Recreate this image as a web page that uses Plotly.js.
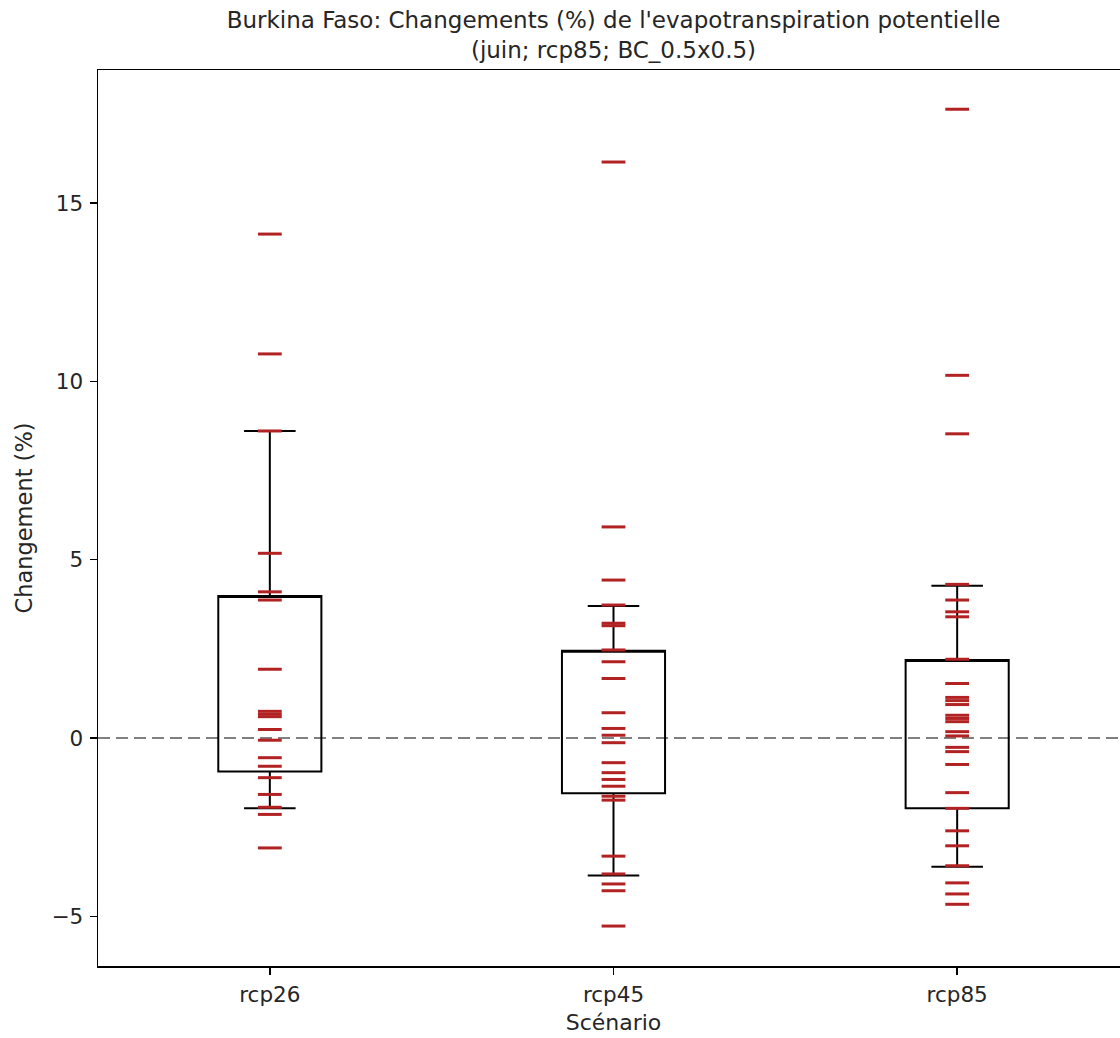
<!DOCTYPE html>
<html>
<head>
<meta charset="utf-8">
<script src="https://cdn.plot.ly/plotly-3.0.1.min.js"></script>
<style>
html,body{margin:0;padding:0;overflow:hidden;background:#fff;}
#chart{width:1140px;height:1038px;}
</style>
</head>
<body>
<div id="chart"></div>
<script>
// Categories
const scenarios = ["rcp26", "rcp45", "rcp85"];

// Individual model values (%)
const rcp26Values = [14.13, 10.77, 8.61, 5.18, 4.10, 3.87, 1.93, 0.75, 0.67, 0.60, 0.24, -0.06, -0.55, -0.79, -1.11, -1.58, -1.94, -2.14, -3.08];
const rcp45Values = [16.15, 5.92, 4.43, 3.73, 3.22, 3.15, 2.47, 2.14, 1.67, 0.71, 0.27, 0.08, -0.13, -0.69, -0.97, -1.16, -1.35, -1.63, -1.74, -3.31, -3.81, -4.09, -4.28, -5.27];
const rcp85Values = [17.63, 10.17, 8.53, 4.31, 3.87, 3.54, 3.40, 2.21, 1.53, 1.14, 1.05, 0.94, 0.64, 0.55, 0.46, 0.18, 0.06, -0.26, -0.38, -0.74, -1.53, -1.97, -2.60, -3.02, -3.58, -4.06, -4.37, -4.66];

// Box statistics
const boxQ1 = [-0.94, -1.55, -1.97];
const boxQ3 = [3.98, 2.45, 2.19];
const boxLowerWhisker = [-1.97, -3.85, -3.61];
const boxUpperWhisker = [8.61, 3.70, 4.27];

// Tick labels
const yTickVals = [-5, 0, 5, 10, 15];
const yTickText = ["\u22125", "0", "5", "10", "15"];

const seriesValues = [rcp26Values, rcp45Values, rcp85Values];
const dashX = [];
const dashY = [];
seriesValues.forEach((vals, i) => {
  vals.forEach(v => { dashX.push(scenarios[i]); dashY.push(v); });
});

const font = "DejaVu Sans, sans-serif";

const boxTrace = {
  type: "box",
  x: scenarios,
  q1: boxQ1,
  median: boxQ3, // no median line is drawn in the reference: hide it on the box edge
  q3: boxQ3,
  lowerfence: boxLowerWhisker,
  upperfence: boxUpperWhisker,
  width: 0.3,
  whiskerwidth: 0.5,
  boxpoints: false,
  fillcolor: "rgba(0,0,0,0)",
  line: {color: "#000000", width: 2},
  hoverinfo: "skip",
  showlegend: false
};

const dashTrace = {
  type: "scatter",
  mode: "markers",
  x: dashX,
  y: dashY,
  marker: {symbol: "line-ew", size: 17, color: "#b22222", line: {color: "#b22222", width: 3}},
  hoverinfo: "y",
  showlegend: false
};

const layout = {
  width: 1140,
  height: 1038,
  margin: {l: 98, r: 11, t: 70, b: 72},
  paper_bgcolor: "#ffffff",
  plot_bgcolor: "#ffffff",
  font: {family: font, size: 21, color: "#262626"},
  title: {
    text: "Burkina Faso: Changements (%) de l'evapotranspiration potentielle<br>(juin; rcp85; BC_0.5x0.5)",
    font: {family: font, size: 23, color: "#262626"},
    x: 0.5, xref: "paper", xanchor: "center",
    y: 0.981, yref: "container", yanchor: "top", pad: {t: 8}
  },
  xaxis: {
    type: "category",
    categoryorder: "array",
    categoryarray: scenarios,
    range: [-0.5, 2.5],
    showgrid: false,
    zeroline: false,
    showline: true,
    mirror: true,
    linecolor: "#000000",
    linewidth: 1.5,
    ticks: "outside",
    ticklen: 7,
    tickwidth: 1.5,
    tickcolor: "#000000",
    ticklabelstandoff: 2,
    tickfont: {family: font, size: 21.5, color: "#262626"},
    title: {text: "Scénario", font: {family: font, size: 22, color: "#262626"}, standoff: 8}
  },
  yaxis: {
    range: [-6.39, 18.73],
    tickvals: yTickVals,
    ticktext: yTickText,
    showgrid: false,
    zeroline: false,
    showline: true,
    mirror: true,
    linecolor: "#000000",
    linewidth: 1.5,
    ticks: "outside",
    ticklen: 7,
    tickwidth: 1.5,
    tickcolor: "#000000",
    ticklabelstandoff: 2,
    tickfont: {family: font, size: 21.5, color: "#262626"},
    title: {text: "Changement (%)", font: {family: font, size: 22.5, color: "#262626"}, standoff: 12}
  },
  shapes: [{
    type: "line", xref: "paper", x0: 0, x1: 1, yref: "y", y0: 0, y1: 0,
    line: {color: "#808080", width: 2, dash: "12px,6px"},
    layer: "below"
  }]
};

Plotly.newPlot("chart", [boxTrace, dashTrace], layout, {displayModeBar: false, staticPlot: true});
</script>
</body>
</html>
